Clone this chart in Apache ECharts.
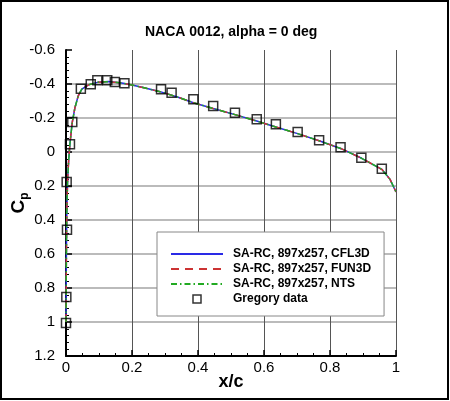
<!DOCTYPE html>
<html>
<head>
<meta charset="utf-8">
<script src="https://cdn.jsdelivr.net/npm/echarts@6/dist/echarts.min.js"></script>
<style>
html,body{margin:0;padding:0;background:#fff;}
#c{width:450px;height:401px;}
</style>
</head>
<body>
<div id="c"></div>
<script>
// CFD surface pressure (all three codes overlap)
const curveX = [0, 0.0005, 0.001, 0.002, 0.003, 0.005, 0.008, 0.012, 0.019, 0.027, 0.037, 0.048, 0.068, 0.098, 0.128, 0.169, 0.2, 0.24, 0.285, 0.34, 0.386, 0.446, 0.512, 0.578, 0.636, 0.702, 0.767, 0.832, 0.896, 0.957, 0.982, 1.0];
const cpCFL3D = [1.0, 0.85, 0.65, 0.42, 0.3, 0.16, 0.05, -0.05, -0.175, -0.26, -0.33, -0.37, -0.395, -0.411, -0.414, -0.406, -0.394, -0.376, -0.355, -0.322, -0.29, -0.256, -0.22, -0.182, -0.147, -0.108, -0.066, -0.021, 0.037, 0.102, 0.161, 0.235];
const cpFUN3D = [1.0, 0.85, 0.65, 0.42, 0.3, 0.16, 0.05, -0.05, -0.175, -0.26, -0.33, -0.37, -0.395, -0.411, -0.414, -0.406, -0.394, -0.376, -0.355, -0.322, -0.29, -0.256, -0.22, -0.182, -0.147, -0.108, -0.066, -0.021, 0.037, 0.102, 0.161, 0.235];
const cpNTS = [1.0, 0.85, 0.65, 0.42, 0.3, 0.16, 0.05, -0.05, -0.175, -0.26, -0.33, -0.37, -0.395, -0.411, -0.414, -0.406, -0.394, -0.376, -0.355, -0.322, -0.29, -0.256, -0.22, -0.182, -0.147, -0.108, -0.066, -0.021, 0.037, 0.102, 0.161, 0.235];
// Gregory experimental data
const gregX = [0.0, 0.001, 0.003, 0.002, 0.012, 0.019, 0.045, 0.075, 0.095, 0.125, 0.148, 0.177, 0.288, 0.32, 0.386, 0.446, 0.512, 0.578, 0.636, 0.702, 0.767, 0.832, 0.895, 0.957];
const gregCp = [1.006, 0.853, 0.457, 0.176, -0.045, -0.176, -0.372, -0.398, -0.422, -0.422, -0.412, -0.404, -0.369, -0.349, -0.31, -0.27, -0.231, -0.192, -0.163, -0.118, -0.069, -0.028, 0.034, 0.098];
const seriesNames = ['SA-RC, 897x257, CFL3D', 'SA-RC, 897x257, FUN3D', 'SA-RC, 897x257, NTS', 'Gregory data'];
const titleText = 'NACA 0012, alpha = 0 deg';

const pairs = (xs, ys) => xs.map((x, i) => [x, ys[i]]);
const FONT = 'Liberation Sans';
const noSym = { color: 'rgba(0,0,0,0)', borderWidth: 0, opacity: 0 };

const chart = echarts.init(document.getElementById('c'));
chart.setOption({
  animation: false,
  backgroundColor: '#fff',
  textStyle: { fontFamily: FONT },
  title: {
    text: titleText, left: 145, top: 25, padding: 0,
    textStyle: { fontFamily: FONT, fontSize: 14, fontWeight: 'bold', color: '#000' }
  },
  graphic: [{
    type: 'rect', silent: true, z: 100,
    shape: { x: 1, y: 1, width: 447, height: 398 },
    style: { fill: 'none', stroke: '#000', lineWidth: 2 }
  }],
  grid: { left: 66, right: 54, top: 50, bottom: 45, containLabel: false, outerBoundsMode: 'none' },
  legend: {
    orient: 'vertical', left: 157, top: 232,
    padding: [16, 13, 11, 13], itemGap: 3, itemWidth: 52, itemHeight: 8,
    backgroundColor: '#fff', borderColor: '#888', borderWidth: 1,
    textStyle: { fontFamily: FONT, fontSize: 12, fontWeight: 'bold', color: '#000', padding: [0, 0, 0, 5] },
    data: [
      { name: seriesNames[0], itemStyle: noSym },
      { name: seriesNames[1], itemStyle: noSym },
      { name: seriesNames[2], itemStyle: noSym },
      { name: seriesNames[3], icon: 'path://M0,0H10V10H0Z', itemStyle: { color: 'rgba(0,0,0,0)', borderColor: '#000', borderWidth: 1.5 } }
    ]
  },
  xAxis: {
    type: 'value', min: 0, max: 1, interval: 0.2,
    name: 'x/c', nameLocation: 'middle', nameGap: 17, nameMoveOverlap: false,
    nameTextStyle: { fontFamily: FONT, fontSize: 18, fontWeight: 'bold', color: '#000' },
    axisLine: { show: true, onZero: false, lineStyle: { color: '#000', width: 2 } },
    axisTick: { show: true, inside: true, length: 6, lineStyle: { color: '#000', width: 1.5 } },
    minorTick: { show: true, splitNumber: 4, length: 3, lineStyle: { color: '#000', width: 1 } },
    axisLabel: { fontFamily: FONT, fontSize: 15, color: '#000', margin: 4 },
    splitLine: { show: true, lineStyle: { color: '#555', width: 1 } }
  },
  yAxis: {
    type: 'value', inverse: true, min: -0.6, max: 1.2, interval: 0.2,
    name: '{c|C}{p|p}', nameLocation: 'middle', nameGap: 38, nameRotate: 90, nameMoveOverlap: false,
    nameTextStyle: {
      rich: {
        c: { fontFamily: FONT, fontSize: 19, fontWeight: 'bold', color: '#000', lineHeight: 19, verticalAlign: 'top' },
        p: { fontFamily: FONT, fontSize: 12, fontWeight: 'bold', color: '#000', lineHeight: 12, padding: [10, 0, 0, 0], verticalAlign: 'top' }
      }
    },
    axisLine: { show: true, onZero: false, lineStyle: { color: '#000', width: 2 } },
    axisTick: { show: true, inside: true, length: 6, lineStyle: { color: '#000', width: 1.5 } },
    minorTick: { show: true, splitNumber: 5, length: 3, lineStyle: { color: '#000', width: 1 } },
    axisLabel: { fontFamily: FONT, fontSize: 15, color: '#000', margin: 11 },
    splitLine: { show: true, lineStyle: { color: ['rgba(0,0,0,0)', '#bbb', '#bbb', '#bbb', '#bbb', '#bbb', '#bbb', '#bbb', '#bbb', '#bbb'], width: 2 } }
  },
  series: [
    {
      name: seriesNames[0], type: 'line', data: pairs(curveX, cpCFL3D), symbol: 'none', showSymbol: false,
      lineStyle: { color: '#2a2ae6', width: 1.5, type: 'solid' }, itemStyle: { color: '#2a2ae6' }, z: 2
    },
    {
      name: seriesNames[1], type: 'line', data: pairs(curveX, cpFUN3D), symbol: 'none', showSymbol: false,
      lineStyle: { color: '#cc3333', width: 1.5, type: [8, 6] }, itemStyle: { color: '#cc3333' }, z: 3
    },
    {
      name: seriesNames[2], type: 'line', data: pairs(curveX, cpNTS), symbol: 'none', showSymbol: false,
      lineStyle: { color: '#22aa22', width: 1.5, type: [6, 3, 1.5, 3] }, itemStyle: { color: '#22aa22' }, z: 4
    },
    {
      name: seriesNames[3], type: 'scatter', data: pairs(gregX, gregCp), symbol: 'rect', symbolSize: 9,
      itemStyle: { color: 'rgba(0,0,0,0)', borderColor: '#000', borderWidth: 1.5 }, z: 5
    }
  ]
});
</script>
</body>
</html>
